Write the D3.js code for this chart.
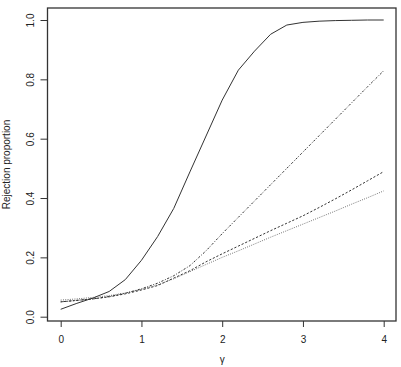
<!DOCTYPE html>
<html>
<head>
<meta charset="utf-8">
<script src="https://cdn.jsdelivr.net/npm/d3@7"></script>
<style>
  html, body { margin: 0; padding: 0; background: #fff; }
  svg { display: block; font-family: "Liberation Sans", Arial, sans-serif; }
</style>
</head>
<body>
<div class="chart"></div>
<script>
// values
const gamma = [0, 0.2, 0.4, 0.6, 0.8, 1.0, 1.2, 1.4, 1.6, 1.8, 2.0, 2.2, 2.4, 2.6, 2.8, 3.0, 3.2, 3.4, 3.6, 3.8, 4.0]
const solid = [0.025, 0.045, 0.063, 0.085, 0.125, 0.19, 0.27, 0.365, 0.488, 0.609, 0.73, 0.831, 0.895, 0.952, 0.983, 0.992, 0.996, 0.998, 0.999, 1.0, 1.0]
const dashed = [0.05, 0.055, 0.06, 0.067, 0.077, 0.09, 0.105, 0.13, 0.155, 0.185, 0.212, 0.238, 0.264, 0.29, 0.315, 0.34, 0.368, 0.397, 0.427, 0.458, 0.489]
const dotted = [0.056, 0.06, 0.065, 0.071, 0.08, 0.092, 0.107, 0.128, 0.152, 0.176, 0.2, 0.222, 0.245, 0.268, 0.29, 0.312, 0.334, 0.356, 0.379, 0.401, 0.424]
const dotdash = [0.05, 0.055, 0.06, 0.068, 0.079, 0.094, 0.113, 0.138, 0.172, 0.222, 0.28, 0.335, 0.39, 0.445, 0.5, 0.555, 0.61, 0.665, 0.72, 0.775, 0.829]
const xTicks = [0, 1, 2, 3, 4]
const yTicks = [0, 0.2, 0.4, 0.6, 0.8, 1.0]

const width = 401, height = 367
const box = {left: 47.5, top: 8, right: 396, bottom: 321}

const svg = d3.select(".chart")
  .append("svg")
  .attr("width", width)
  .attr("height", height)

const x = d3.scaleLinear().domain([0, 4]).range([60.7, 383.7])
const y = d3.scaleLinear().domain([0, 1]).range([316.7, 20])

// plot frame
svg.append("rect")
  .attr("x", box.left)
  .attr("y", box.top)
  .attr("width", box.right - box.left)
  .attr("height", box.bottom - box.top)
  .attr("fill", "none")
  .attr("stroke", "#333")
  .attr("stroke-width", 1.3)

// x axis
const xAxis = svg.append("g")
  .attr("transform", `translate(0,${box.bottom})`)
  .call(d3.axisBottom(x).tickValues(xTicks).tickFormat(d3.format("d")).tickSize(6).tickPadding(9))
xAxis.select(".domain").remove()
xAxis.selectAll("line").attr("stroke", "#333")
xAxis.selectAll("text").attr("font-size", 10).attr("fill", "#222").attr("font-family", "Liberation Sans, Arial, sans-serif")

// y axis
const yAxis = svg.append("g")
  .attr("transform", `translate(${box.left},0)`)
  .call(d3.axisLeft(y).tickValues(yTicks).tickFormat(d3.format(".1f")).tickSize(7))
yAxis.select(".domain").remove()
yAxis.selectAll("line").attr("stroke", "#333")
yAxis.selectAll("text")
  .attr("font-size", 10)
  .attr("fill", "#222")
  .attr("font-family", "Liberation Sans, Arial, sans-serif")
  .attr("text-anchor", "middle")
  .attr("x", null).attr("dy", null)
  .attr("transform", "translate(-13.5,0) rotate(-90)")

// axis titles
svg.append("text")
  .attr("transform", `translate(10,${(box.top + box.bottom) / 2}) rotate(-90)`)
  .attr("text-anchor", "middle")
  .attr("font-size", 10)
  .attr("fill", "#222")
  .text("Rejection proportion")

svg.append("text")
  .attr("x", x(2))
  .attr("y", 363)
  .attr("text-anchor", "middle")
  .attr("font-size", 10)
  .attr("fill", "#222")
  .text("γ")

// curves
const series = [
  {vals: solid, dash: null, color: "#333"},
  {vals: dashed, dash: "2.2,1.8", color: "#333"},
  {vals: dotted, dash: "0.9,1.4", color: "#666"},
  {vals: dotdash, dash: "0.9,1.6,2.2,1.6", color: "#333"}
]

const line = d3.line()
  .x(function(d) { return x(d[0]) })
  .y(function(d) { return y(d[1]) })

series.forEach((s)=>{
  svg.append("path")
    .datum(gamma.map((g, i) => [g, s.vals[i]]))
    .attr("fill", "none")
    .attr("stroke", s.color)
    .attr("stroke-width", 1)
    .attr("stroke-dasharray", s.dash)
    .attr("d", line)
})
</script>
</body>
</html>
